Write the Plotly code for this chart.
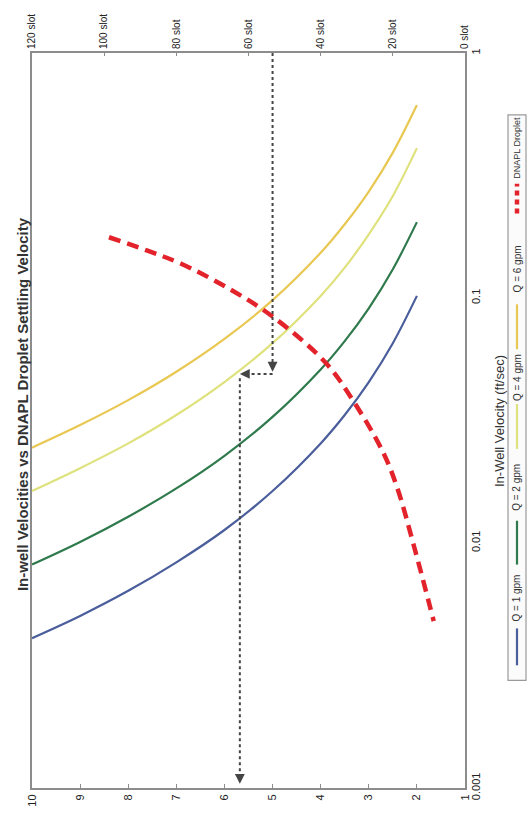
import math
import plotly.graph_objects as go

# Well diameter (in) on the horizontal axis, in-well velocity (ft/sec) on log axis
diam = [2, 2.5, 3, 3.5, 4, 5, 6, 7, 8, 9, 10]
vel_q1 = [0.102, 0.0654, 0.0454, 0.0333, 0.0255, 0.0163, 0.0113, 0.00834, 0.00638, 0.00504, 0.00409]
vel_q2 = [0.204, 0.131, 0.0908, 0.0667, 0.0511, 0.0327, 0.0227, 0.0167, 0.0128, 0.0101, 0.00817]
vel_q4 = [0.409, 0.261, 0.182, 0.133, 0.102, 0.0654, 0.0454, 0.0333, 0.0255, 0.0202, 0.0163]
vel_q6 = [0.613, 0.392, 0.272, 0.200, 0.153, 0.098, 0.0681, 0.0500, 0.0383, 0.0303, 0.0245]

# DNAPL droplet settling velocity
drop_diam = [8.4, 7.6, 6.9, 5.9, 5.0, 3.9, 3.3, 2.7, 2.4, 2.06, 1.65]
drop_vel = [0.177, 0.156, 0.138, 0.109, 0.084, 0.0545, 0.0374, 0.0234, 0.0166, 0.0097, 0.0048]

# Guide path: down from the slot axis, across, then down to the diameter axis
guide_down_x = [5.0, 5.0]
guide_down_y = [1.0, 0.054]
guide_across_x = [5.0, 5.62]
guide_across_y = [0.049, 0.049]
guide_final_x = [5.68, 5.68]
guide_final_y = [0.047, 0.00108]

x_ticks = [1, 2, 3, 4, 5, 6, 7, 8, 9, 10]
slot_ticks = [0, 20, 40, 60, 80, 100, 120]
slot_labels = [f"{s} slot" for s in slot_ticks]
v_ticks = [0.001, 0.01, 0.1, 1]
v_labels = ["0.001", "0.01", "0.1", "1"]

series = [
    ("Q = 1 gpm", vel_q1, "#4b5e9c"),
    ("Q = 2 gpm", vel_q2, "#2f7a4c"),
    ("Q = 4 gpm", vel_q4, "#dfe27c"),
    ("Q = 6 gpm", vel_q6, "#e8c852"),
]
red = "#e3232b"
guide = "#444444"
axis_col = "#8c8c8c"
font = "Liberation Sans, Arial, sans-serif"

W, H = 527, 819
L, R, T, B = 32, 465, 53, 790


def px_x(px):
    return (px - L) / (R - L)


def px_y(py):
    return (B - py) / (B - T)


fig = go.Figure()

for name, vals, color in series:
    fig.add_trace(go.Scatter(x=diam, y=vals, mode="lines", name=name,
                             line=dict(color=color, width=2.2, shape="spline"),
                             showlegend=False, hoverinfo="skip"))

fig.add_trace(go.Scatter(x=drop_diam, y=drop_vel, mode="lines", name="DNAPL Droplet",
                         line=dict(color=red, width=4.5, dash="12px,7px", shape="spline"),
                         showlegend=False, hoverinfo="skip"))

for gx, gy in [(guide_down_x, guide_down_y), (guide_across_x, guide_across_y),
               (guide_final_x, guide_final_y)]:
    fig.add_trace(go.Scatter(x=gx, y=gy, mode="lines",
                             line=dict(color=guide, width=2, dash="3px,3px"),
                             showlegend=False, hoverinfo="skip"))

# invisible trace so the slot axis is drawn on top
fig.add_trace(go.Scatter(x=[0, 120], y=[0.001, 0.001], xaxis="x2", mode="markers",
                         marker=dict(opacity=0), showlegend=False, hoverinfo="skip"))

annotations = []
# arrowheads on the guide path
for hx, hy, ax, ay in [(5.0, 0.050, 0, -9), (5.68, 0.049, 9, 0), (5.68, 0.00104, 0, -9)]:
    annotations.append(dict(x=hx, y=math.log10(hy), xref="x", yref="y", text="",
                            showarrow=True, arrowhead=2, arrowsize=1.1, arrowwidth=1.8,
                            arrowcolor=guide, ax=ax, ay=ay, standoff=0))

annotations.append(dict(x=px_x(22), y=px_y(405), xref="paper", yref="paper",
                        text="<b>In-well Velocities vs DNAPL Droplet Settling Velocity</b>",
                        textangle=-90, showarrow=False, xanchor="center", yanchor="middle",
                        font=dict(family=font, size=15, color="#333333")))
annotations.append(dict(x=px_x(500), y=px_y(422), xref="paper", yref="paper",
                        text="In-Well Velocity (ft/sec)", textangle=-90, showarrow=False,
                        xanchor="center", yanchor="middle",
                        font=dict(family=font, size=13, color="#333333")))

shapes = []
# legend box
shapes.append(dict(type="rect", xref="paper", yref="paper",
                   x0=px_x(508), x1=px_x(526), y0=px_y(682), y1=px_y(115),
                   line=dict(color="#9a9a9a", width=1.2), fillcolor="#fbfbfb", layer="above"))

legend_items = [
    ("Q = 1 gpm", series[0][2], 630, 667, 600, None, 2.2, 10),
    ("Q = 2 gpm", series[1][2], 522, 566, 489, None, 2.2, 10),
    ("Q = 4 gpm", series[2][2], 405, 450, 379, None, 2.2, 10),
    ("Q = 6 gpm", series[3][2], 305, 350, 270, None, 2.2, 10),
    ("DNAPL Droplet", red, 184, 214, 148, "5px,4px", 4.5, 9),
]
lx = 517
for text, color, ya, yb, tc, dash, w, fs in legend_items:
    ln = dict(color=color, width=w)
    if dash:
        ln["dash"] = dash
    shapes.append(dict(type="line", xref="paper", yref="paper",
                       x0=px_x(lx), x1=px_x(lx), y0=px_y(yb), y1=px_y(ya),
                       line=ln, layer="above"))
    annotations.append(dict(x=px_x(lx), y=px_y(tc), xref="paper", yref="paper", text=text,
                            textangle=-90, showarrow=False, xanchor="center", yanchor="middle",
                            font=dict(family=font, size=fs, color="#333333")))

fig.update_layout(
    width=W, height=H,
    margin=dict(l=L, r=W - R, t=T, b=H - B, pad=0),
    paper_bgcolor="white", plot_bgcolor="white",
    font=dict(family=font, color="#333333"),
    xaxis=dict(range=[10, 1], tickvals=x_ticks, tickangle=-90, showgrid=False,
               zeroline=False, showline=True, linecolor=axis_col, linewidth=2,
               ticks="inside", ticklen=4, tickcolor=axis_col,
               tickfont=dict(size=11, color="#222222")),
    xaxis2=dict(range=[120, 0], overlaying="x", side="top", tickvals=slot_ticks,
                ticktext=slot_labels, tickangle=-90, showgrid=False, zeroline=False,
                showline=True, linecolor=axis_col, linewidth=2, ticks="inside",
                ticklen=3, tickcolor=axis_col, tickfont=dict(size=10, color="#222222")),
    yaxis=dict(type="log", range=[-3, 0], side="right", tickvals=v_ticks, ticktext=v_labels,
               tickangle=-90, showgrid=False, zeroline=False, showline=True, mirror=True,
               linecolor=axis_col, linewidth=2, ticks="",
               tickfont=dict(size=11, color="#222222")),
    annotations=annotations,
    shapes=shapes,
)

fig.write_html("out.html")
